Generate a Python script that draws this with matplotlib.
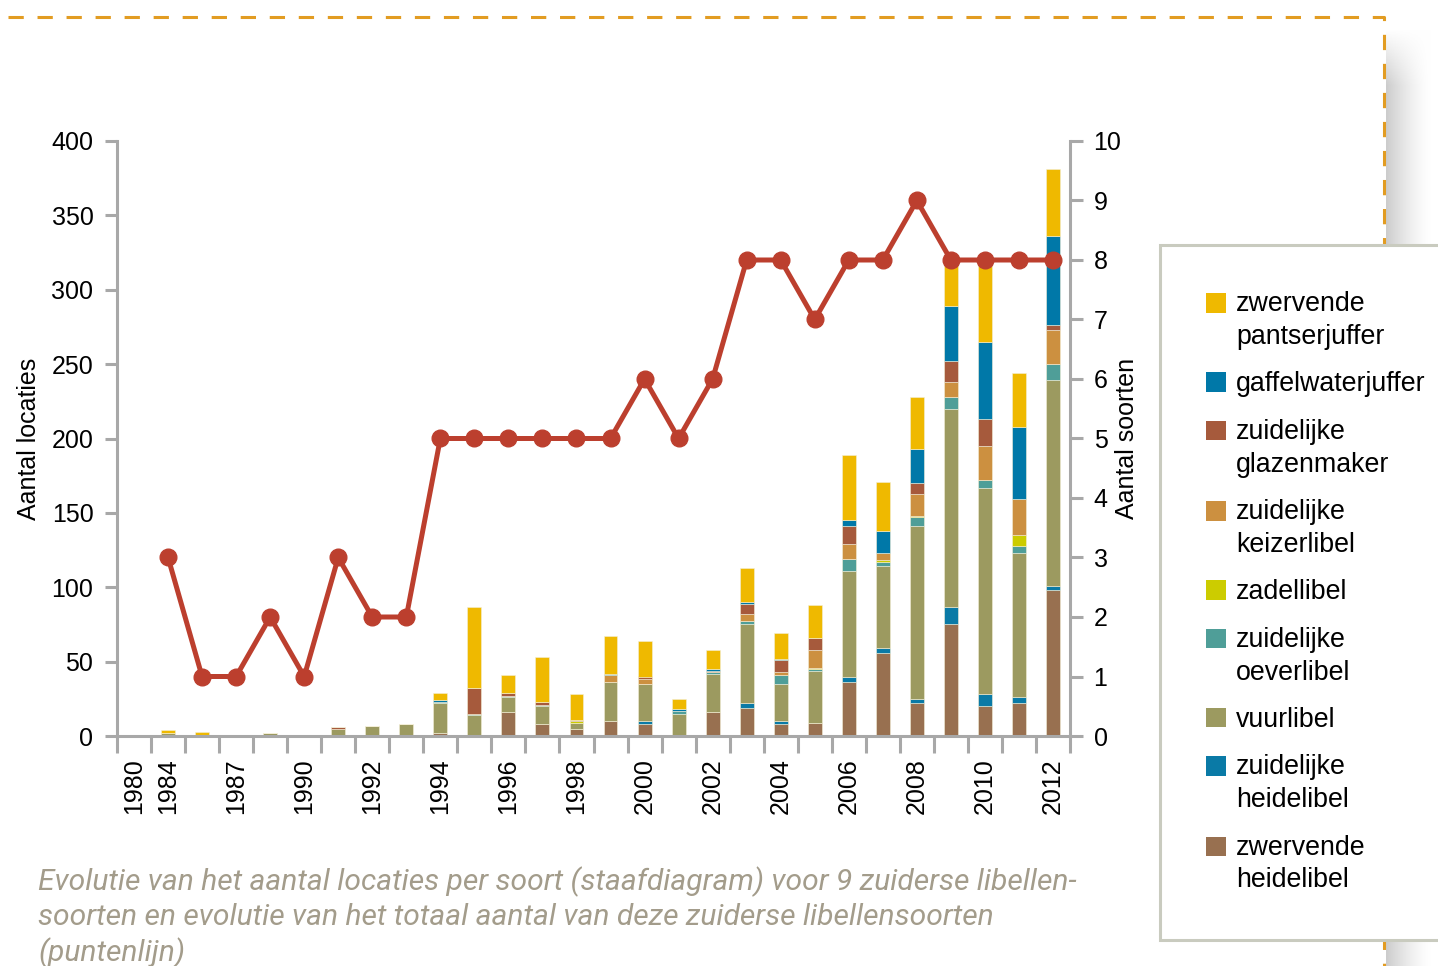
import numpy as np
import matplotlib
matplotlib.use("Agg")
import matplotlib.pyplot as plt
from matplotlib.patches import Rectangle, Patch
from matplotlib.lines import Line2D
from matplotlib.legend_handler import HandlerPatch

plt.rcParams['font.family'] = ['Liberation Sans', 'DejaVu Sans']

# --- data -------------------------------------------------------------
years = ['1980', '1984', '1986', '1987', '1988', '1990', '1991', '1992', '1993',
         '1994', '1995', '1996', '1997', '1998', '1999', '2000', '2001', '2002',
         '2003', '2004', '2005', '2006', '2007', '2008', '2009', '2010', '2011',
         '2012']

# stacked from bottom to top
zwervende_heidelibel = [0, 1, 0, 0, 0, 0, 1, 1, 1, 2, 1, 16, 8, 5, 10, 8, 0, 16,
                        19, 8, 9, 36, 56, 22, 75, 20, 22, 98]
zuidelijke_heidelibel = [0, 0, 0, 0, 0, 0, 0, 0, 0, 0, 0, 0, 0, 0, 0, 2, 1, 0,
                         3, 2, 0, 4, 3, 3, 12, 8, 4, 3]
vuurlibel = [0, 1, 0, 1, 2, 1, 4, 6, 7, 20, 13, 10, 12, 4, 26, 25, 14, 26,
             53, 25, 35, 71, 55, 116, 133, 139, 97, 138]
zuidelijke_oeverlibel = [0, 0, 0, 0, 0, 0, 0, 0, 0, 1, 1, 1, 1, 0, 0, 0, 2, 1,
                         2, 6, 1, 8, 3, 6, 8, 5, 5, 11]
zadellibel = [0, 0, 0, 0, 0, 0, 0, 0, 0, 0, 0, 0, 0, 1, 0, 0, 0, 0,
              0, 0, 1, 0, 1, 1, 0, 0, 7, 0]
zuidelijke_keizerlibel = [0, 0, 0, 0, 0, 0, 0, 0, 0, 0, 0, 0, 0, 0, 5, 3, 0, 0,
                          5, 2, 12, 10, 5, 15, 10, 23, 24, 23]
zuidelijke_glazenmaker = [0, 0, 0, 0, 0, 0, 1, 0, 0, 0, 17, 2, 2, 1, 0, 2, 0, 1,
                          7, 8, 8, 12, 0, 7, 14, 18, 0, 3]
gaffelwaterjuffer = [0, 0, 0, 0, 0, 0, 0, 0, 0, 1, 0, 0, 0, 0, 1, 0, 1, 1,
                     1, 1, 0, 4, 15, 23, 37, 52, 49, 60]
zwervende_pantserjuffer = [0, 2, 3, 0, 0, 0, 0, 0, 0, 5, 55, 12, 30, 17, 25, 24, 7, 13,
                           23, 17, 22, 44, 33, 35, 31, 55, 36, 45]

aantal_soorten = [np.nan, 3, 1, 1, 2, 1, 3, 2, 2, 5, 5, 5, 5, 5, 5, 6, 5, 6,
                  8, 8, 7, 8, 8, 9, 8, 8, 8, 8]

series = [
    ('zwervende\nheidelibel', zwervende_heidelibel, '#987050'),
    ('zuidelijke\nheidelibel', zuidelijke_heidelibel, '#0a7aa6'),
    ('vuurlibel', vuurlibel, '#9c9a60'),
    ('zuidelijke\noeverlibel', zuidelijke_oeverlibel, '#4f9e98'),
    ('zadellibel', zadellibel, '#cccc00'),
    ('zuidelijke\nkeizerlibel', zuidelijke_keizerlibel, '#cc9040'),
    ('zuidelijke\nglazenmaker', zuidelijke_glazenmaker, '#a65a3c'),
    ('gaffelwaterjuffer', gaffelwaterjuffer, '#0078a8'),
    ('zwervende\npantserjuffer', zwervende_pantserjuffer, '#efb900'),
]

caption = ("Evolutie van het aantal locaties per soort (staafdiagram) voor 9 zuiderse libellen-\n"
           "soorten en evolutie van het totaal aantal van deze zuiderse libellensoorten\n"
           "(puntenlijn)")

# --- figure -----------------------------------------------------------
W, H = 1438, 966
fig = plt.figure(figsize=(W / 100, H / 100), dpi=100)
axis_grey = '#a8a8a8'
fs = 18

ax = fig.add_axes([117 / W, 1 - 736 / H, 953 / W, 595 / H])
x = np.arange(len(years))
bottom = np.zeros(len(years))
handles = []
for label, vals, col in series:
    vals = np.array(vals, dtype=float)
    ax.bar(x, vals, 0.41, bottom=bottom, color=col, edgecolor='#f4efd8',
           linewidth=0.4, zorder=2)
    bottom += vals
    handles.append((Patch(facecolor=col, edgecolor='none'), label))

ax.set_xlim(-0.5, len(years) - 0.5)
ax.set_ylim(0, 400)
ax.set_yticks(range(0, 401, 50))
ax.set_xticks(x)
ax.set_xticklabels([y if i == 0 or i % 2 == 1 else '' for i, y in enumerate(years)],
                   rotation=90, fontsize=fs)
ax.set_xticks(np.arange(-0.5, len(years), 1), minor=True)
ax.tick_params(axis='x', which='major', length=0, pad=16)
ax.tick_params(axis='x', which='minor', length=12, width=2.2, color=axis_grey)
ax.tick_params(axis='y', length=9, width=2.2, color=axis_grey, labelsize=fs, pad=8)
for s in ['top', 'right']:
    ax.spines[s].set_visible(False)
for s in ['left', 'bottom']:
    ax.spines[s].set_color(axis_grey)
    ax.spines[s].set_linewidth(2.2)
ax.set_ylabel('Aantal locaties', fontsize=fs)
ax.yaxis.set_label_coords(-0.08, 0.5)

ax2 = ax.twinx()
ax2.plot(x, aantal_soorten, color='#bc3f2e', lw=3.6, marker='o', markersize=12,
         zorder=3)
ax2.set_ylim(0, 10)
ax2.set_yticks(range(0, 11))
ax2.tick_params(axis='y', length=9, width=2.2, color=axis_grey, labelsize=fs, pad=8)
for s in ['top', 'left', 'bottom']:
    ax2.spines[s].set_visible(False)
ax2.spines['right'].set_color(axis_grey)
ax2.spines['right'].set_linewidth(2.2)
ax2.set_ylabel('Aantal soorten', fontsize=fs)
ax2.yaxis.set_label_coords(1.047, 0.5)

# page decoration: dashed border and shadow
orange = '#e29c22'
fig.add_artist(Line2D([8 / W, 1384 / W, 1384 / W], [1 - 17 / H, 1 - 17 / H, 0],
                      transform=fig.transFigure, color=orange, lw=2.2,
                      dashes=(5, 4.5), zorder=-1))
sh = fig.add_axes([1386 / W, 0, 45 / W, 1 - 28 / H], zorder=-2)
gx = np.linspace(0, 1, 60)
gy = np.linspace(0, 1, 300)
fade = (1 - gx) ** 1.4
ramp = np.clip(gy / 0.06, 0, 1)[:, None]
shade = 1 - 0.2 * fade[None, :] * ramp
sh.imshow(np.dstack([shade] * 3), aspect='auto', origin='upper',
          extent=[0, 1, 0, 1])
sh.axis('off')


class TopPatch(HandlerPatch):
    def __init__(self, shift, **kw):
        super().__init__(**kw)
        self.shift = shift

    def create_artists(self, legend, orig_handle, xdescent, ydescent, width,
                       height, fontsize, trans):
        p = Rectangle((-xdescent, -ydescent + self.shift * fontsize), width, height)
        self.update_prop(p, orig_handle, legend)
        p.set_transform(trans)
        return [p]


leg_handles = [h for h, _ in handles][::-1]
leg_labels = [l for _, l in handles][::-1]
hmap = {h: TopPatch(0.68 if '\n' in l else 0.0) for h, l in zip(leg_handles, leg_labels)}
leg = fig.legend(leg_handles, leg_labels, loc='upper left',
                 bbox_to_anchor=(1160 / W, 1 - 245 / H), frameon=True,
                 fancybox=False, edgecolor='#c9cbbf', framealpha=1,
                 fontsize=19.3, handlelength=0.75, handleheight=0.75,
                 handletextpad=0.36, labelspacing=0.8, borderpad=1.72,
                 borderaxespad=0, handler_map=hmap)
leg.get_frame().set_linewidth(2.2)
for t in leg.get_texts():
    t.set_linespacing(1.34)

fig.text(38 / W, 1 - 866 / H, caption, ha='left', va='top', fontsize=21.6,
         family='Roboto', style='italic', color='#a39c8b', linespacing=1.27)

fig.savefig('out.png', dpi=100)
